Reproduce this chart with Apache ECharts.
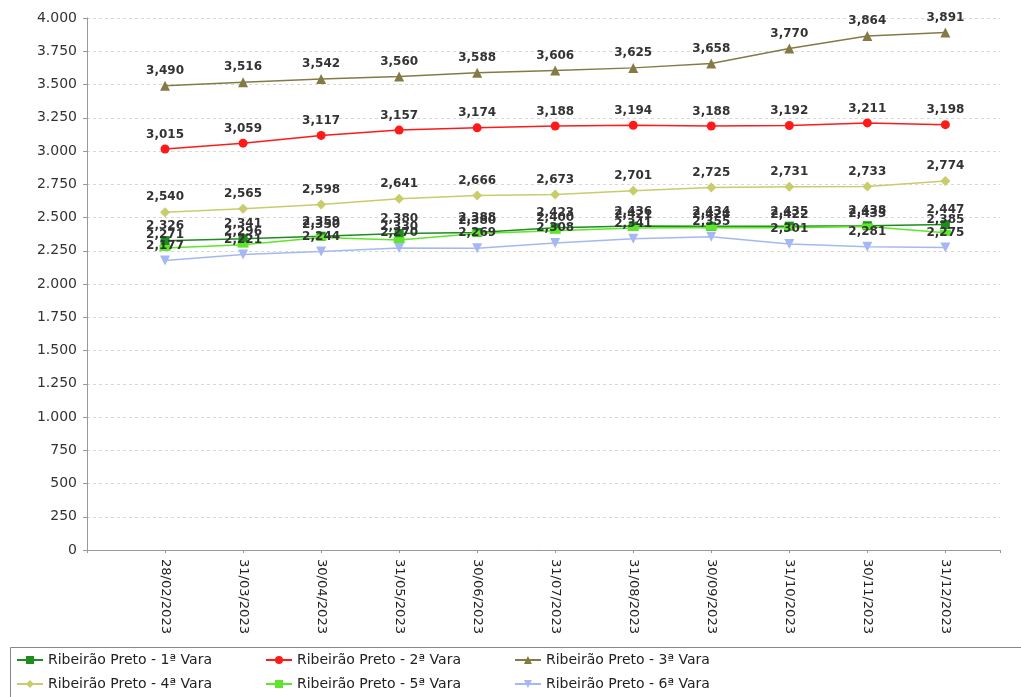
<!DOCTYPE html>
<html>
<head>
<meta charset="utf-8">
<script src="https://cdn.jsdelivr.net/npm/echarts@6/dist/echarts.min.js"></script>
<style>
  html, body { margin: 0; padding: 0; background: #fff; }
  #chart { width: 1021px; height: 697px; }
</style>
</head>
<body>
<div id="chart"></div>
<script>
// categorias (datas)
var categories = ["28/02/2023", "31/03/2023", "30/04/2023", "31/05/2023", "30/06/2023", "31/07/2023",
  "31/08/2023", "30/09/2023", "31/10/2023", "30/11/2023", "31/12/2023"];

var vara1 = [2326, 2341, 2359, 2380, 2388, 2423, 2436, 2434, 2435, 2438, 2447];
var vara2 = [3015, 3059, 3117, 3157, 3174, 3188, 3194, 3188, 3192, 3211, 3198];
var vara3 = [3490, 3516, 3542, 3560, 3588, 3606, 3625, 3658, 3770, 3864, 3891];
var vara4 = [2540, 2565, 2598, 2641, 2666, 2673, 2701, 2725, 2731, 2733, 2774];
var vara5 = [2271, 2296, 2350, 2330, 2380, 2400, 2421, 2424, 2422, 2433, 2385];
var vara6 = [2177, 2221, 2244, 2270, 2269, 2308, 2341, 2355, 2301, 2281, 2275];

var names = ["Ribeirão Preto - 1ª Vara", "Ribeirão Preto - 2ª Vara", "Ribeirão Preto - 3ª Vara",
  "Ribeirão Preto - 4ª Vara", "Ribeirão Preto - 5ª Vara", "Ribeirão Preto - 6ª Vara"];

var yTicks = { min: 0, max: 4000, step: 250 };

var chart = echarts.init(document.getElementById("chart"));

function fmtLabel(v) {
  return String(v).replace(/\B(?=(\d{3})+(?!\d))/g, ",");
}
function fmtAxis(v) {
  return String(v).replace(/\B(?=(\d{3})+(?!\d))/g, ".");
}

function mkSeries(name, data, color, symbol, size) {
  return {
    name: name,
    type: "line",
    data: data.map(function (v, i) { return [i, v]; }),
    symbol: symbol,
    symbolSize: size,
    lineStyle: { color: color, width: 1.5 },
    itemStyle: { color: color },
    label: {
      show: true,
      position: "top",
      distance: 4,
      fontFamily: "DejaVu Sans",
      fontSize: 12,
      fontWeight: "bold",
      color: "#333",
      formatter: function (p) { return fmtLabel(p.value[1]); }
    },
    labelLayout: { hideOverlap: false },
    animation: false
  };
}

function mkLegend(top, data) {
  return {
    left: 16,
    top: top,
    padding: 0,
    itemGap: 53,
    itemWidth: 26,
    itemHeight: 10,
    textStyle: { fontFamily: "DejaVu Sans", fontSize: 14, color: "#222" },
    data: data
  };
}

var option = {
  animation: false,
  grid: { left: 87, top: 18, right: 21, bottom: 147, containLabel: false },
  legend: [mkLegend(653, names.slice(0, 3)), mkLegend(677, names.slice(3))],
  graphic: [{
    type: "rect",
    left: 8, top: 645,
    shape: { width: 1011, height: 51 },
    style: { fill: "none", stroke: "#888", lineWidth: 1 }
  }],
  xAxis: {
    type: "value",
    min: -1,
    max: 10.7,
    interval: 1,
    axisLine: { onZero: false, lineStyle: { color: "#999" } },
    axisTick: { show: true, length: 3, lineStyle: { color: "#999" } },
    splitLine: { show: false },
    axisLabel: {
      rotate: -90,
      margin: 9,
      fontFamily: "DejaVu Sans",
      fontSize: 13,
      color: "#222",
      formatter: function (v) {
        return (Number.isInteger(v) && v >= 0 && v < categories.length) ? categories[v] : "";
      }
    }
  },
  yAxis: {
    type: "value",
    min: yTicks.min,
    max: yTicks.max,
    interval: yTicks.step,
    axisLine: { show: true, onZero: false, lineStyle: { color: "#999" } },
    axisTick: { show: true, length: 4, lineStyle: { color: "#999" } },
    splitLine: { show: true, lineStyle: { color: "#d8d8d8", type: [3, 3] } },
    axisLabel: {
      margin: 10,
      fontFamily: "DejaVu Sans",
      fontSize: 14,
      color: "#333",
      formatter: fmtAxis
    }
  },
  series: [
    mkSeries(names[0], vara1, "#1e8c1e", "rect", 9),
    mkSeries(names[1], vara2, "#ff1a1a", "circle", 9),
    mkSeries(names[2], vara3, "#857a45", "triangle", 10),
    mkSeries(names[3], vara4, "#c9cc6a", "diamond", 10),
    mkSeries(names[4], vara5, "#5ee62a", "rect", [11, 6]),
    mkSeries(names[5], vara6, "#a6b8f2", "path://M0,0 L10,0 L5,9 Z", 10)
  ]
};

chart.setOption(option);
</script>
</body>
</html>
